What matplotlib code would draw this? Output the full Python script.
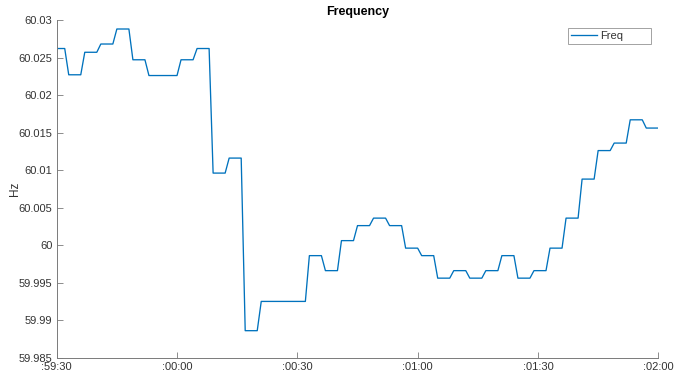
import numpy as np
import matplotlib
matplotlib.use("Agg")
import matplotlib.pyplot as plt

plt.rcParams['font.family'] = ['Liberation Sans Narrow', 'Liberation Sans', 'DejaVu Sans']

# Grid frequency, one sample per second over the 150 s window
freq_hz = [
    60.0262, 60.0262, 60.0262,
    60.0227, 60.0227, 60.0227, 60.0227,
    60.0257, 60.0257, 60.0257, 60.0257,
    60.0268, 60.0268, 60.0268, 60.0268,
    60.0288, 60.0288, 60.0288, 60.0288,
    60.0247, 60.0247, 60.0247, 60.0247,
    60.0226, 60.0226, 60.0226, 60.0226,
    60.0226, 60.0226, 60.0226, 60.0226,
    60.0247, 60.0247, 60.0247, 60.0247,
    60.0262, 60.0262, 60.0262, 60.0262,
    60.0096, 60.0096, 60.0096, 60.0096,
    60.0116, 60.0116, 60.0116, 60.0116,
    59.9886, 59.9886, 59.9886, 59.9886,
    59.9925, 59.9925, 59.9925, 59.9925,
    59.9925, 59.9925, 59.9925, 59.9925,
    59.9925, 59.9925, 59.9925, 59.9925,
    59.9986, 59.9986, 59.9986, 59.9986,
    59.9966, 59.9966, 59.9966, 59.9966,
    60.0006, 60.0006, 60.0006, 60.0006,
    60.0026, 60.0026, 60.0026, 60.0026,
    60.0036, 60.0036, 60.0036, 60.0036,
    60.0026, 60.0026, 60.0026, 60.0026,
    59.9996, 59.9996, 59.9996, 59.9996,
    59.9986, 59.9986, 59.9986, 59.9986,
    59.9956, 59.9956, 59.9956, 59.9956,
    59.9966, 59.9966, 59.9966, 59.9966,
    59.9956, 59.9956, 59.9956, 59.9956,
    59.9966, 59.9966, 59.9966, 59.9966,
    59.9986, 59.9986, 59.9986, 59.9986,
    59.9956, 59.9956, 59.9956, 59.9956,
    59.9966, 59.9966, 59.9966, 59.9966,
    59.9996, 59.9996, 59.9996, 59.9996,
    60.0036, 60.0036, 60.0036, 60.0036,
    60.0088, 60.0088, 60.0088, 60.0088,
    60.0126, 60.0126, 60.0126, 60.0126,
    60.0136, 60.0136, 60.0136, 60.0136,
    60.0167, 60.0167, 60.0167, 60.0167,
    60.0156, 60.0156, 60.0156, 60.0156,
]
time_s = np.arange(len(freq_hz))

x_tick_pos = [0, 30, 60, 90, 120, 150]
x_tick_labels = [':59:30', ':00:00', ':00:30', ':01:00', ':01:30', ':02:00']
y_tick_pos = [59.985, 59.99, 59.995, 60.0, 60.005, 60.01, 60.015, 60.02, 60.025, 60.03]
y_tick_labels = ['59.985', '59.99', '59.995', '60', '60.005', '60.01', '60.015', '60.02', '60.025', '60.03']

W, H = 676, 377
fig = plt.figure(figsize=(W / 100, H / 100), dpi=100)
left, right, top, bottom = 56.7, 658.3, 20.0, 357.7
ax = fig.add_axes([left / W, 1 - bottom / H, (right - left) / W, (bottom - top) / H])

line_color = '#0072BD'
axis_color = '#7a7a7a'
text_color = '#333333'

ax.plot(time_s, freq_hz, color=line_color, lw=0.95, label='Freq')

ax.set_xlim(0, 150)
ax.set_ylim(59.985, 60.03)
ax.set_xticks(x_tick_pos)
ax.set_xticklabels(x_tick_labels)
ax.set_yticks(y_tick_pos)
ax.set_yticklabels(y_tick_labels)

for side in ('top', 'right'):
    ax.spines[side].set_visible(False)
for side in ('left', 'bottom'):
    ax.spines[side].set_color(axis_color)
    ax.spines[side].set_linewidth(0.7)

ax.tick_params(axis='both', direction='in', length=4.2, width=0.6, color=axis_color,
               labelsize=8, labelcolor=text_color, pad=3)

ax.set_title('Frequency', fontsize=9, fontweight='bold', color='black', pad=3.5)
ax.set_ylabel('Hz', fontsize=8.5, color=text_color)
ax.yaxis.set_label_coords((21 - left) / (right - left), 0.5)

leg_x0, leg_x1, leg_top = 568.3, 650.7, 28.3
leg = ax.legend(loc='upper left',
                bbox_to_anchor=(leg_x0 / W, 0.5, (leg_x1 - leg_x0) / W, 0.5 - leg_top / H),
                bbox_transform=fig.transFigure, mode='expand', borderaxespad=0,
                fontsize=8, handlelength=2.35, handletextpad=0.3, borderpad=0.25,
                fancybox=False, frameon=True)
leg.get_frame().set_edgecolor('#8a8a8a')
leg.get_frame().set_linewidth(0.7)
for t in leg.get_texts():
    t.set_color(text_color)

fig.savefig('out.png', dpi=100)
